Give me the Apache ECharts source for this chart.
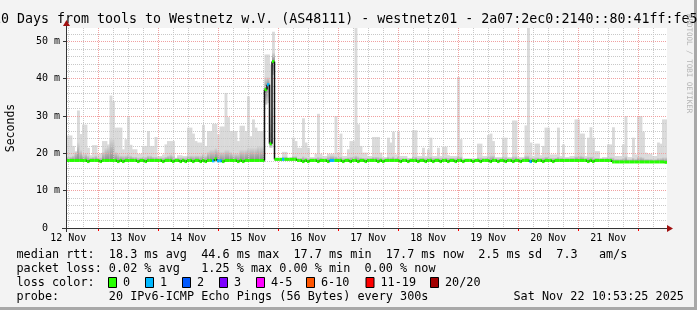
<!DOCTYPE html>
<html><head><meta charset="utf-8">
<script src="https://cdn.jsdelivr.net/npm/echarts@6/dist/echarts.min.js"></script>
<style>html,body{margin:0;padding:0;background:#f3f3f3}#c{width:697px;height:310px}</style>
</head><body><div id="c"></div>
<script>
// ---- time axis (hours since 12 Nov 00:00) ----
const startHour = 11 + 29/60;
const stepHours = 1;
const dayLabels = ['12 Nov','13 Nov','14 Nov','15 Nov','16 Nov','17 Nov','18 Nov','19 Nov','20 Nov','21 Nov'];
const dayLabelHours = [12,36,60,84,108,132,156,180,204,228];
const midnightHours = [24,48,72,96,120,144,168,192,216,240];
const quarterDayHours = [12,18,30,36,42,54,60,66,78,84,90,102,108,114,126,132,138,150,156,162,174,180,186,198,204,210,222,228,234,246];
const yMajor = [0,10,20,30,40,50];
const yMinor = [2,4,6,8,12,14,16,18,22,24,26,28,32,34,36,38,42,44,46,48,52];
const yMax = 53.6;

// ---- hourly data (ms) ----
const median = [
18.1,18.1,18.1,18.1,18.1,18.1,18.1,18.1,17.8,18.1,
18.1,18.1,18.1,17.8,18.1,18.1,18.1,18.1,18.1,18.1,
17.8,18.1,17.8,18.1,18.1,18.1,18.1,18.1,17.8,18.1,
18.1,17.8,18.1,18.1,18.1,18.1,18.1,18.1,17.8,18.1,
18.1,18.1,17.8,18.1,18.1,17.8,18.1,17.8,18.1,18.1,
17.8,18.1,18.1,17.8,18.1,17.8,18.1,18.1,18.0,18.5,
18.0,18.0,17.8,18.1,18.1,18.1,18.1,18.1,17.8,18.1,
17.8,18.1,18.1,18.1,18.1,18.1,18.1,18.1,18.1,37.1,
38.4,22.6,44.6,18.4,18.4,18.4,18.4,18.4,18.4,18.4,
18.4,18.4,18.1,18.1,17.8,18.1,17.8,18.1,18.1,18.1,
17.8,18.1,18.1,18.1,17.8,18.1,18.1,18.1,18.1,18.1,
17.8,18.1,18.1,17.8,18.1,18.1,17.8,18.1,18.1,17.8,
18.1,18.1,18.1,18.1,17.8,18.1,17.8,18.1,18.1,18.1,
18.1,18.1,18.1,17.8,18.1,18.1,17.8,18.1,18.1,18.1,
17.8,18.1,18.1,17.8,18.1,18.1,17.8,18.1,18.1,17.8,
18.1,18.1,17.8,18.1,18.1,17.8,18.1,18.1,17.8,18.1,
18.1,18.1,17.8,18.1,18.1,17.8,18.1,18.1,18.1,17.8,
18.1,18.1,17.8,18.1,18.1,17.8,18.1,18.1,17.8,18.1,
18.1,17.8,18.1,18.1,18.1,17.8,18.1,17.8,18.1,18.1,
17.8,18.1,18.1,18.1,17.8,18.1,18.1,18.1,18.1,18.1,
18.1,18.1,18.1,18.1,18.1,18.1,18.1,18.1,17.8,18.1,
17.8,18.1,18.1,18.1,18.1,18.1,18.1,18.1,17.7,17.7,
17.7,17.7,17.7,17.7,17.7,17.7,17.7,17.7,17.7,17.7,
17.7,17.7,17.7,17.7,17.7,17.7,17.7,17.7,17.7,17.6
];
const smokeTop = [
24.8,24.8,22.0,20.5,31.5,25.2,27.7,27.7,21.5,19.5,
22.2,22.2,19.7,20.0,23.3,23.3,22.4,35.5,34.0,26.9,
26.9,26.9,21.1,23.8,29.7,22.3,21.1,21.1,19.9,19.9,
22.0,22.0,26.0,22.0,22.0,24.4,19.3,19.3,19.7,22.4,
23.3,23.3,23.3,18.8,19.5,19.5,19.3,19.3,26.9,26.9,
25.3,23.3,22.9,22.9,27.6,22.0,26.0,26.0,27.9,27.9,
25.1,27.2,27.2,36.2,29.7,26.0,26.0,26.0,23.3,27.4,
27.4,26.0,35.3,24.6,29.1,26.9,26.0,26.0,26.0,46.5,
46.5,43.8,52.6,18.8,18.8,18.8,20.4,20.4,18.8,19.0,
24.2,23.3,21.5,21.5,29.4,22.9,21.5,19.0,19.0,19.9,
30.6,19.9,19.3,19.3,19.9,19.9,19.9,30.0,20.2,25.3,
19.3,19.3,21.1,23.3,23.3,54.5,27.8,22.0,20.2,20.2,
19.3,19.3,24.4,24.4,24.4,20.2,19.0,19.0,24.2,22.9,
25.8,19.7,25.8,19.3,19.3,19.3,18.8,18.8,26.2,26.2,
19.3,19.3,21.5,19.3,21.1,24.2,19.3,19.3,21.5,19.3,
21.8,21.8,19.5,19.3,19.3,19.3,40.5,23.8,18.6,18.6,
18.6,18.6,18.6,18.6,22.6,22.6,19.3,19.3,24.9,25.3,
23.3,19.0,19.0,19.0,24.2,24.2,19.0,19.0,28.8,28.8,
19.0,19.0,19.0,27.5,54.5,22.9,19.3,22.6,22.6,19.5,
22.0,26.9,26.9,19.7,19.7,19.7,26.9,19.3,22.4,19.0,
19.0,19.3,19.3,29.1,29.1,25.3,25.3,19.3,24.2,27.0,
24.2,20.6,20.6,18.8,19.0,19.0,22.4,22.4,27.0,19.3,
19.3,19.3,22.4,30.0,19.0,19.0,24.2,19.7,30.0,30.0,
25.8,20.2,19.9,19.9,19.3,19.3,22.9,22.6,29.1,29.1
];
const smokeMid = [
19.2,19.2,19.5,20.5,23.0,21.0,19.8,20.0,19.5,19.0,
19.2,19.5,19.0,19.0,20.5,21.5,22.0,24.0,24.0,20.5,
20.0,19.5,19.5,19.5,19.8,19.5,19.2,19.2,19.0,19.0,
19.2,19.2,19.5,19.5,19.2,19.2,19.0,19.0,19.0,19.2,
19.5,19.8,19.5,18.8,19.0,19.0,19.0,19.0,19.5,19.5,
19.5,19.5,19.5,19.5,20.0,19.5,20.5,21.0,21.0,21.5,
21.0,20.5,20.5,21.0,21.0,20.5,20.0,20.0,20.0,21.0,
21.0,21.0,21.5,21.5,21.5,21.5,22.0,22.0,22.0,40.5,
40.5,32.0,47.0,18.6,18.6,18.6,19.2,19.2,18.6,18.8,
19.3,19.3,18.9,18.9,19.3,19.0,18.9,18.8,18.8,18.9,
19.2,19.0,18.8,18.8,19.3,19.5,19.5,19.3,19.0,19.2,
18.8,18.8,19.0,19.2,19.2,19.5,19.3,19.0,18.9,18.9,
18.9,18.9,19.2,19.2,19.2,19.0,18.8,18.8,19.2,19.0,
19.3,18.9,19.3,18.8,18.8,18.8,18.7,18.7,19.2,19.2,
18.9,18.9,19.0,18.9,19.0,19.2,18.9,18.9,19.0,18.9,
19.0,19.0,18.9,18.9,18.9,18.9,19.3,19.2,18.6,18.6,
18.6,18.6,18.6,18.6,19.0,19.0,18.9,18.9,19.2,19.5,
19.5,18.8,18.8,18.8,19.2,19.2,18.8,18.8,19.3,19.3,
18.8,18.8,18.8,19.5,19.5,19.0,18.9,19.0,19.0,18.9,
19.0,19.2,19.2,18.9,18.9,18.9,19.2,18.9,19.0,18.8,
18.8,18.9,18.9,19.3,19.3,19.5,19.3,18.9,19.2,19.2,
19.2,18.9,18.9,18.7,18.8,18.8,19.0,19.0,19.0,18.6,
18.6,18.6,18.8,19.3,18.5,18.5,18.9,18.6,19.2,19.2,
19.0,18.6,18.6,18.6,18.5,18.5,18.8,18.8,19.0,19.0
];
const smokeBottom = [
17.7,17.7,17.7,17.7,17.7,17.7,17.7,17.7,17.7,17.7,
17.7,17.7,17.7,17.7,17.7,17.7,17.7,17.7,17.7,17.7,
17.7,17.7,17.7,17.7,17.7,17.7,17.7,17.7,17.7,17.7,
17.7,17.7,17.7,17.7,17.7,17.7,17.7,17.7,17.7,17.7,
17.7,17.7,17.7,17.7,17.7,17.7,17.7,17.7,17.7,17.7,
17.7,17.7,17.7,17.7,17.7,17.7,17.7,17.7,17.7,17.7,
17.7,17.7,17.7,17.7,17.7,17.7,17.7,17.7,17.7,17.7,
17.7,17.7,17.7,17.7,17.7,17.7,17.7,17.7,17.7,33.1,
33.5,21.5,41.0,18.0,18.0,18.0,18.0,18.0,18.0,18.0,
18.0,18.0,17.7,17.7,17.7,17.7,17.7,17.7,17.7,17.7,
17.7,17.7,17.7,17.7,17.7,17.7,17.7,17.7,17.7,17.7,
17.7,17.7,17.7,17.7,17.7,17.7,17.7,17.7,17.7,17.7,
17.7,17.7,17.7,17.7,17.7,17.7,17.7,17.7,17.7,17.7,
17.7,17.7,17.7,17.7,17.7,17.7,17.7,17.7,17.7,17.7,
17.7,17.7,17.7,17.7,17.7,17.7,17.7,17.7,17.7,17.7,
17.7,17.7,17.7,17.7,17.7,17.7,17.7,17.7,17.7,17.7,
17.7,17.7,17.7,17.7,17.7,17.7,17.7,17.7,17.7,17.7,
17.7,17.7,17.7,17.7,17.7,17.7,17.7,17.7,17.7,17.7,
17.7,17.7,17.7,17.7,17.7,17.7,17.7,17.7,17.7,17.7,
17.7,17.7,17.7,17.7,17.7,17.7,17.7,17.7,17.7,17.7,
17.7,17.7,17.7,17.7,17.7,17.7,17.7,17.7,17.7,17.7,
17.7,17.7,17.7,17.7,17.7,17.7,17.7,17.7,17.5,17.5,
17.5,17.5,17.5,17.5,17.5,17.5,17.5,17.5,17.5,17.5,
17.5,17.5,17.5,17.5,17.5,17.5,17.5,17.5,17.5,17.5
];
const lossCount = [
0,0,0,0,0,0,0,0,0,0, 0,0,0,0,0,0,0,0,0,0, 0,0,0,0,0,0,0,0,0,0, 0,0,0,0,0,0,0,0,0,0,
0,0,0,0,0,0,0,0,0,0, 0,0,0,0,0,0,0,0,1,0, 1,1,0,0,0,0,0,0,0,0, 0,0,0,0,0,0,0,0,0,0,
1,0,0,0,0,0,1,0,0,0, 0,0,0,0,0,0,0,0,0,0, 0,0,0,0,0,1,1,0,0,0, 0,0,0,0,0,0,0,0,0,0,
0,0,0,0,0,0,0,0,0,0, 0,0,0,0,0,0,0,0,0,0, 0,0,0,0,0,0,0,0,0,0, 0,0,0,0,0,0,0,0,0,0,
0,0,0,0,0,0,0,0,0,0, 0,0,0,0,0,0,0,0,0,0, 0,0,0,0,0,1,0,0,0,0, 0,0,0,0,0,0,0,0,0,0,
0,0,0,0,0,0,0,0,0,0, 0,0,0,0,0,0,0,0,0,0, 0,0,0,0,0,0,0,0,0,0, 0,0,0,0,0,0,0,0,0,0
];

// ---- legend ----
const lossLabels = ['0','1','2','3','4-5','6-10','11-19','20/20'];
const lossLegendColors = ['#26ff00','#00b8ff','#0059ff','#7e00ff','#ff00ff','#ff5500','#ff0000','#a10000'];
const lossLegendX = [108.5,145.5,182.5,219.5,256.5,306.5,366,430.5];
const lossColorByCount = {0:'#26ff00',1:'#00b8ff',2:'#0059ff',3:'#7e00ff'};

const titleText = '10 Days from tools to Westnetz w.V. (AS48111) - westnetz01 - 2a07:2ec0:2140::80:41ff:fe5';
const statLines = [
 'median rtt:  18.3 ms avg  44.6 ms max  17.7 ms min  17.7 ms now  2.5 ms sd  7.3   am/s',
 'packet loss: 0.02 % avg   1.25 % max 0.00 % min  0.00 % now',
 'loss color:',
 'probe:       20 IPv6-ICMP Echo Pings (56 Bytes) every 300s'
];
const stampText = 'Sat Nov 22 10:53:25 2025';

const MONO = '"DejaVu Sans Mono", monospace';
const rows = median.map((m, i) => [startHour + i*stepHours, startHour + (i+1)*stepHours,
  smokeBottom[i], m, smokeMid[i], smokeTop[i], lossCount[i], i ? median[i-1] : m]);

const upGrad = new echarts.graphic.LinearGradient(0,0,0,1,[{offset:0,color:'#d8d8d8'},{offset:1,color:'#8c8c8c'}]);
const downGrad = new echarts.graphic.LinearGradient(0,0,0,1,[{offset:0,color:'#8c8c8c'},{offset:1,color:'#d4d4d4'}]);

function renderSmoke(params, api) {
  const x0 = api.value(0), x1 = api.value(1);
  const bot = api.value(2), med = api.value(3), mid = api.value(4), top = api.value(5);
  const pt = api.coord([x0, top]), pb = api.coord([x1, bot]);
  const yMed = api.coord([x0, med])[1], yMid = api.coord([x0, mid])[1];
  const x = pt[0], w = pb[0] - pt[0] + 0.4;
  return {type:'group', children:[
    {type:'rect', shape:{x:x, y:pt[1], width:w, height:pb[1]-pt[1]}, style:{fill:'#dadada'}},
    {type:'rect', shape:{x:x, y:yMid, width:w, height:yMed-yMid}, style:{fill:upGrad}},
    {type:'rect', shape:{x:x, y:yMed, width:w, height:pb[1]-yMed}, style:{fill:downGrad}}
  ]};
}
function renderMedian(params, api) {
  const x0 = api.value(0), x1 = api.value(1), m = api.value(3), loss = api.value(6), prev = api.value(7);
  const a = api.coord([x0, m]), b = api.coord([x1, m]), p = api.coord([x0, prev]);
  return {type:'group', children:[
    {type:'line', shape:{x1:a[0], y1:p[1], x2:a[0], y2:a[1]}, style:{stroke:'#111', lineWidth:1.5}},
    {type:'line', shape:{x1:a[0], y1:a[1], x2:b[0], y2:b[1]}, style:{stroke:lossColorByCount[loss], lineWidth:3}}
  ]};
}

const chart = echarts.init(document.getElementById('c'), null, {renderer:'canvas', width:697, height:310});
const graphics = [
  {type:'rect', silent:true, shape:{x:0,y:307,width:697,height:3}, style:{fill:'#a8a8a8'}},
  {type:'rect', silent:true, shape:{x:694,y:0,width:3,height:310}, style:{fill:'#a8a8a8'}},
  {type:'text', silent:true, x:-7, y:19.2, style:{text:titleText, font:'13.3px '+MONO, fill:'#000', align:'left', verticalAlign:'middle', textAlign:'left', textVerticalAlign:'middle'}},
  {type:'text', silent:true, x:11, y:128, rotation:Math.PI/2, style:{text:'Seconds', font:'11.5px '+MONO, fill:'#000', align:'center', verticalAlign:'middle', textAlign:'center', textVerticalAlign:'middle'}},
  {type:'text', silent:true, x:689, y:14, rotation:-Math.PI/2, style:{text:'RRDTOOL / TOBI OETIKER', font:'7.5px '+MONO, fill:'#b4b4b4', align:'left', verticalAlign:'middle', textAlign:'left', textVerticalAlign:'middle'}},
  {type:'line', silent:true, z:20, shape:{x1:62, y1:228.5, x2:668, y2:228.5}, style:{stroke:'#333', lineWidth:1}},
  {type:'line', silent:true, z:20, shape:{x1:66.5, y1:232, x2:66.5, y2:24}, style:{stroke:'#333', lineWidth:1}},
  {type:'polygon', silent:true, z:21, shape:{points:[[667,225],[673,228.5],[667,232]]}, style:{fill:'#a01010'}},
  {type:'polygon', silent:true, z:21, shape:{points:[[63,26],[66.5,20],[70,26]]}, style:{fill:'#a01010'}},
  {type:'text', silent:true, x:513.5, y:297.2, style:{text:stampText, font:'11.8px '+MONO, fill:'#000', align:'left', verticalAlign:'middle', textAlign:'left', textVerticalAlign:'middle'}}
];
const lineY = [255.2, 269.2, 283.2, 297.2];
statLines.forEach((t, k) => graphics.push({type:'text', silent:true, x:16.5, y:lineY[k],
  style:{text:t, font:'11.8px '+MONO, fill:'#000', align:'left', verticalAlign:'middle', textAlign:'left', textVerticalAlign:'middle'}}));
lossLabels.forEach((lab, k) => {
  graphics.push({type:'rect', silent:true, shape:{x:lossLegendX[k], y:277.5, width:8, height:10}, style:{fill:lossLegendColors[k], stroke:'#000', lineWidth:1}});
  graphics.push({type:'text', silent:true, x:lossLegendX[k]+14.5, y:lineY[2], style:{text:lab, font:'11.8px '+MONO, fill:'#000', align:'left', verticalAlign:'middle', textAlign:'left', textVerticalAlign:'middle'}});
});

const xMin = startHour, xMax = startHour + median.length*stepHours;
chart.setOption({
  animation:false,
  backgroundColor:'#f3f3f3',
  grid:{left:67, top:28, width:600, height:200, show:true, backgroundColor:'#ffffff', borderWidth:0, containLabel:false},
  xAxis:[
    {type:'value', min:xMin, max:xMax, position:'bottom', z:5,
     axisLine:{show:false},
     axisTick:{show:true, customValues:midnightHours, length:3, lineStyle:{color:'#ff0000'}},
     axisLabel:{show:true, customValues:dayLabelHours, formatter:v => dayLabels[dayLabelHours.indexOf(v)], margin:5, fontFamily:MONO, fontSize:10, color:'#000'},
     splitLine:{show:true, lineStyle:{color:'#f0a0a0', type:[1,1], width:1}}},
    {type:'value', min:xMin, max:xMax, position:'top', z:4,
     axisLine:{show:false}, axisTick:{show:false, customValues:quarterDayHours}, axisLabel:{show:false},
     splitLine:{show:true, lineStyle:{color:'#c8c8c8', type:[1,1], width:1}}}
  ],
  yAxis:[
    {type:'value', min:0, max:yMax, position:'left', z:5,
     axisLine:{show:false},
     axisTick:{show:true, customValues:yMajor, length:4, lineStyle:{color:'#333'}},
     axisLabel:{show:true, customValues:yMajor, formatter:v => v === 0 ? '0  ' : v + ' m', margin:7, fontFamily:MONO, fontSize:10, color:'#000'},
     splitLine:{show:true, lineStyle:{color:'#f0a0a0', type:[1,1], width:1}}},
    {type:'value', min:0, max:yMax, position:'right', z:4,
     axisLine:{show:false}, axisTick:{show:false, customValues:yMinor}, axisLabel:{show:false},
     splitLine:{show:true, lineStyle:{color:'#c8c8c8', type:[1,1], width:1}}}
  ],
  series:[
    {type:'custom', name:'smoke', renderItem:renderSmoke, data:rows, clip:true, z:1, silent:true,
     xAxisIndex:0, yAxisIndex:0, encode:{x:[0,1], y:[2,5]}},
    {type:'custom', name:'median', renderItem:renderMedian, data:rows, clip:true, z:10, silent:true,
     xAxisIndex:0, yAxisIndex:0, encode:{x:[0,1], y:[3]}}
  ],
  graphic:graphics
});
</script></body></html>
